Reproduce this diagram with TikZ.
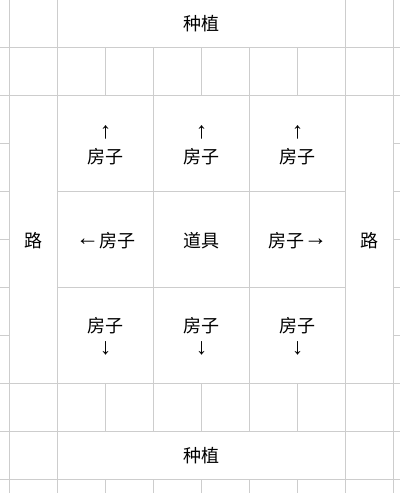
\documentclass[tikz,border=0pt]{standalone}
\usepackage{fontspec}
\newfontfamily\cjk{Noto Sans CJK SC}
\newfontfamily\arrowfont{Liberation Sans}
\newcommand\arrowsize{\arrowfont\fontsize{23}{26}\selectfont}
\definecolor{gridc}{RGB}{205,205,205}
\begin{document}
\begin{tikzpicture}[x=1pt,y=-1pt,
  gridline/.style={draw=gridc,line width=0.9pt},
  lbl/.style={font=\cjk\fontsize{18}{22}\selectfont, inner sep=0pt, text=black},
  arr/.style={font=\arrowsize, inner sep=0pt, text=black}]
\useasboundingbox (0,0) rectangle (400,493);
\fill[white] (0,0) rectangle (400,493);
% vertical grid lines
\foreach \i in {0,1,7,8} \draw[gridline] ({9.7+48*\i},0) -- ({9.7+48*\i},493);
\foreach \i in {2,...,6} {
  \draw[gridline] ({9.7+48*\i},47.3) -- ({9.7+48*\i},95.3);
  \draw[gridline] ({9.7+48*\i},383.3) -- ({9.7+48*\i},431.3);
  \draw[gridline] ({9.7+48*\i},479.3) -- ({9.7+48*\i},493);
}
\foreach \i in {3,5} \draw[gridline] ({9.7+48*\i},95.3) -- ({9.7+48*\i},383.3);
% horizontal grid lines
\foreach \y in {47.3,95.3,383.3,431.3,479.3} \draw[gridline] (0,\y) -- (400,\y);
\foreach \y in {143.3,191.3,239.3,287.3,335.3} {
  \draw[gridline] (0,\y) -- (9.7,\y);
  \draw[gridline] (393.7,\y) -- (400,\y);
}
\foreach \y in {191.3,287.3} \draw[gridline] (57.7,\y) -- (345.7,\y);
% labels
\node[lbl] (plantT) at (201.7,24) {种植};
\node[lbl] (plantB) at (201.7,456) {种植};
\node[lbl] (roadL) at (33.7,240.5) {路};
\node[lbl] (roadR) at (369.7,240.5) {路};
\node[lbl] (prop) at (201.7,240.5) {道具};
\node[lbl] (houseW) at (105.7,240.5) {{\arrowsize\raisebox{2pt}{←}}房子};
\node[lbl] (houseE) at (297.7,240.5) {房子{\arrowsize\raisebox{2pt}{→}}};
\foreach \x/\n in {105.7/a,201.7/b,297.7/c} {
  \node[arr] (upArrow\n) at (\x,132.7) {↑};
  \node[lbl] (houseN\n) at (\x,157) {房子};
  \node[lbl] (houseS\n) at (\x,325.7) {房子};
  \node[arr] (downArrow\n) at (\x,348.3) {↓};
}
\end{tikzpicture}
\end{document}
